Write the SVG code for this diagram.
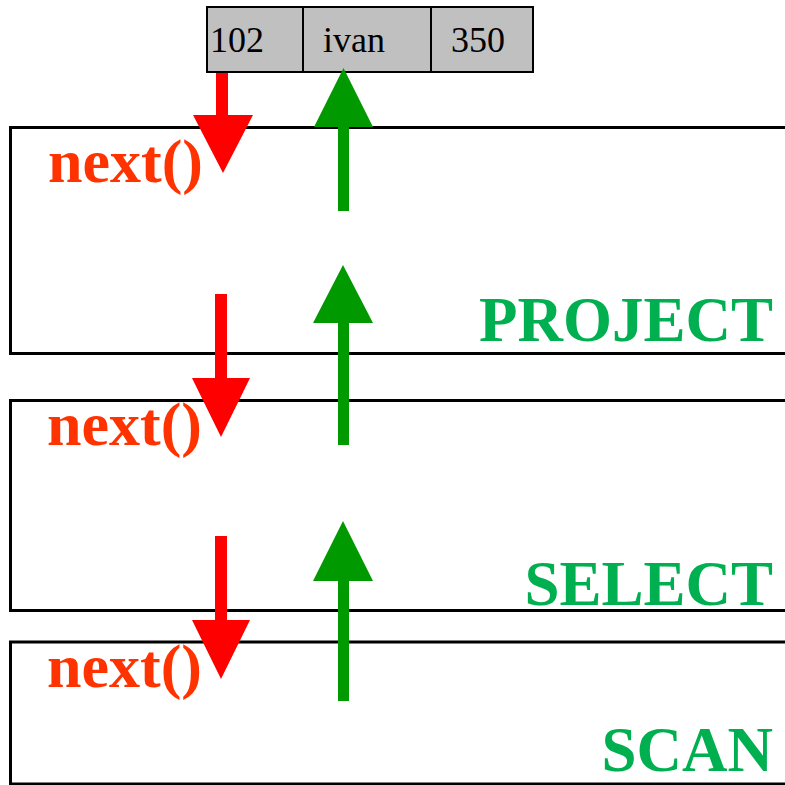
<svg xmlns="http://www.w3.org/2000/svg" width="785" height="785" viewBox="0 0 785 785">
<style>
.op{fill:#ffffff;stroke:#000000;stroke-width:3}
.cell{fill:#c0c0c0;stroke:#000000;stroke-width:2}
.val{font-family:"Liberation Serif","Times New Roman",serif;font-size:36px;fill:#000000}
.lbl{font-family:"Liberation Serif","Times New Roman",serif;font-size:63px;font-weight:bold;fill:#00b050;text-anchor:end}
.nx{font-family:"Liberation Serif","Times New Roman",serif;font-size:62px;font-weight:bold;fill:#ff3300}
.down{fill:#ff0000}
.up{fill:#009900}
</style>
<rect x="0" y="0" width="785" height="785" fill="#ffffff"/>
<g id="project">
<rect class="op" x="10.5" y="127.5" width="800" height="226"/>
<text class="lbl" x="773" y="341">PROJECT</text>
</g>
<g id="select">
<rect class="op" x="10.5" y="400.5" width="800" height="210"/>
<text class="lbl" x="773" y="605">SELECT</text>
</g>
<g id="scan">
<rect class="op" x="10.5" y="642" width="800" height="142"/>
<text class="lbl" x="773" y="771" font-size="62">SCAN</text>
</g>
<g id="tuple">
<rect class="cell" x="207" y="7" width="96" height="65"/>
<rect class="cell" x="303" y="7" width="128" height="65"/>
<rect class="cell" x="431" y="7" width="102" height="65"/>
<text class="val" x="210" y="52">102</text>
<text class="val" x="323" y="52">ivan</text>
<text class="val" x="451" y="52">350</text>
</g>
<g id="connectors">
<polygon class="down" points="216,73 228,73 228,115 253,115 223,173 193,115 216,115"/>
<polygon class="down" points="215,294 227,294 227,378 250,378 221,437 192,378 215,378"/>
<polygon class="down" points="215,536 227,536 227,620 250,620 221,679 192,620 215,620"/>
<polygon class="up" points="338,211 349,211 349,127 373,127 343.5,68 314,127 338,127"/>
<polygon class="up" points="338,445 349,445 349,323 373,323 343,265 313,323 338,323"/>
<polygon class="up" points="338,701 349,701 349,581 373,581 343,521 313,581 338,581"/>
<text class="nx" x="48" y="182">next()</text>
<text class="nx" x="47" y="445">next()</text>
<text class="nx" x="47" y="687">next()</text>
</g>
</svg>
